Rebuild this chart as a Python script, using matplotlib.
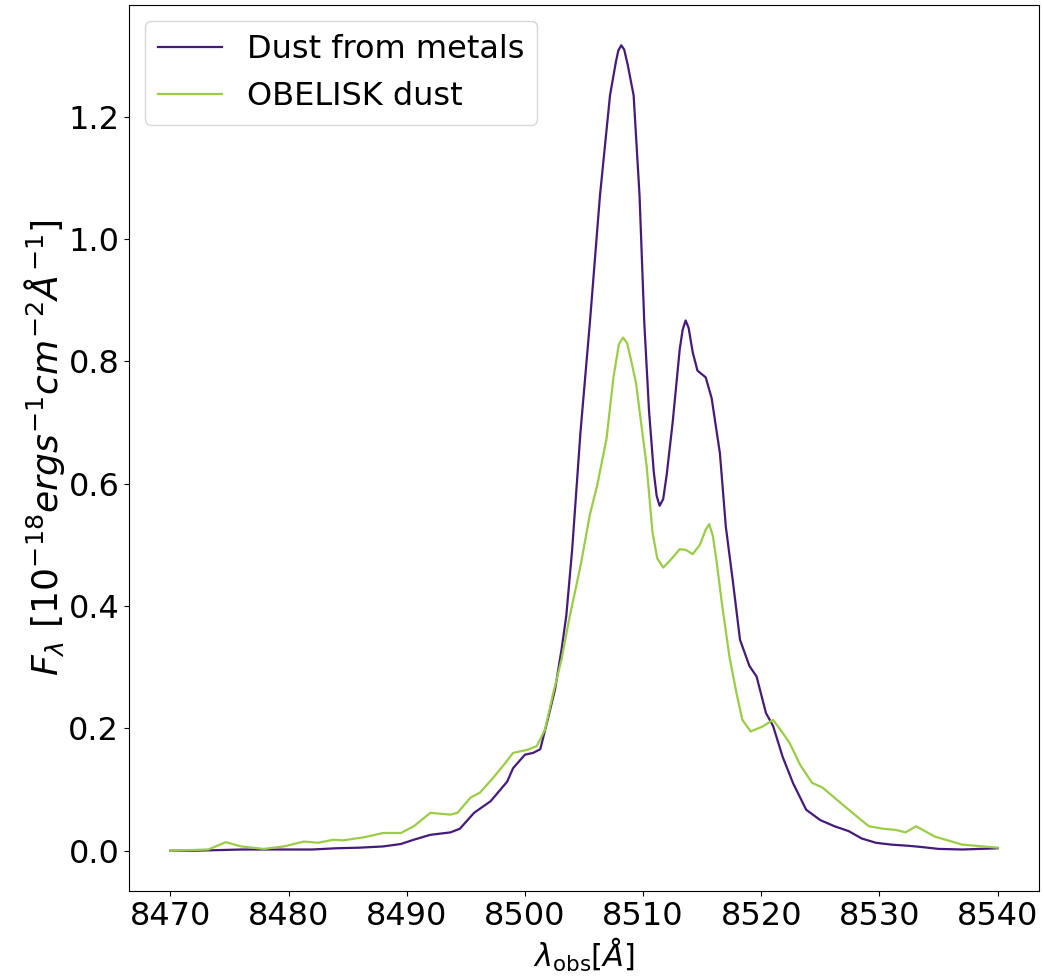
import matplotlib
matplotlib.use("Agg")
import matplotlib.pyplot as plt

# Dust from metals
wl_metals = [8470, 8472, 8474, 8476, 8478, 8480, 8482, 8484, 8486, 8488, 8489.5, 8490.6,
             8492, 8493.7, 8494.5, 8495.7, 8497.1, 8498.5, 8499.0, 8500.0, 8500.7, 8501.3,
             8502.0, 8502.55, 8503.1, 8503.5, 8504.0, 8504.7, 8505.5, 8506.35, 8507.2, 8507.7,
             8507.9, 8508.15, 8508.4, 8508.7, 8509.2, 8509.7, 8510.1, 8510.5, 8510.9, 8511.15,
             8511.4, 8511.7, 8512.0, 8512.5, 8513.1, 8513.35, 8513.6, 8513.85, 8514.2, 8514.6,
             8515.3, 8515.8, 8516.5, 8517.0, 8517.6, 8518.2,
             8519.0, 8519.6, 8520.4, 8521.0, 8521.8, 8522.7, 8523.8, 8525.0, 8526.2, 8527.4,
             8528.5, 8529.7, 8531.0, 8532.5, 8533.6, 8535.0, 8537.0, 8540.0]
flux_metals = [0.000, 0.000, 0.001, 0.002, 0.002, 0.002, 0.002, 0.004, 0.005, 0.007, 0.011, 0.018,
               0.026, 0.030, 0.036, 0.062, 0.081, 0.113, 0.135, 0.157, 0.160, 0.166,
               0.220, 0.264, 0.329, 0.384, 0.493, 0.684, 0.864, 1.071, 1.235, 1.290,
               1.308, 1.317, 1.310, 1.285, 1.235, 1.071, 0.864, 0.720, 0.620, 0.580,
               0.564, 0.575, 0.615, 0.700, 0.820, 0.852, 0.867, 0.855, 0.815, 0.785,
               0.774, 0.740, 0.650, 0.530, 0.440, 0.345,
               0.302, 0.285, 0.225, 0.204, 0.154, 0.110, 0.067, 0.050, 0.040, 0.032,
               0.020, 0.013, 0.010, 0.008, 0.006, 0.003, 0.002, 0.004]

# OBELISK dust
wl_obelisk = [8470, 8473.2, 8474.7, 8476.0, 8477.9, 8479.6, 8481.3, 8482.5, 8483.8, 8484.6,
              8486.4, 8488.0, 8489.5, 8490.6, 8492.0, 8493.7, 8494.3, 8495.4, 8496.2, 8497.3,
              8498.2, 8499.0, 8500.2, 8501.0, 8501.7, 8502.4, 8503.1, 8503.8, 8504.7, 8505.5,
              8506.1, 8506.9, 8507.5, 8507.95, 8508.3, 8508.65, 8508.95, 8509.4, 8510.3, 8510.8,
              8511.2, 8511.7, 8512.3, 8513.1, 8513.6, 8514.2, 8514.8, 8515.3, 8515.6, 8515.9,
              8516.2, 8516.7, 8517.3, 8517.9,
              8518.4, 8519.1, 8520.1, 8521.0, 8521.8, 8522.4, 8523.3, 8524.3, 8525.2, 8526.3,
              8527.4, 8529.1, 8530.3, 8531.4, 8532.2, 8533.1, 8534.7, 8537.0, 8540.0]
flux_obelisk = [0.000, 0.002, 0.014, 0.007, 0.003, 0.007, 0.015, 0.013, 0.018, 0.017,
                0.022, 0.029, 0.029, 0.040, 0.062, 0.059, 0.062, 0.087, 0.095, 0.119,
                0.140, 0.160, 0.165, 0.171, 0.198, 0.258, 0.313, 0.384, 0.465, 0.550,
                0.596, 0.673, 0.775, 0.828, 0.839, 0.830, 0.805, 0.765, 0.629, 0.520,
                0.478, 0.463, 0.475, 0.493, 0.492, 0.485, 0.500, 0.525, 0.534, 0.515,
                0.476, 0.400, 0.318, 0.258,
                0.214, 0.195, 0.203, 0.214, 0.193, 0.176, 0.140, 0.111, 0.103, 0.085,
                0.067, 0.040, 0.036, 0.034, 0.030, 0.040, 0.023, 0.010, 0.005]

labels = ["Dust from metals", "OBELISK dust"]
colors = ["#441a7a", "#9acd45"]

fig = plt.figure(figsize=(10.43, 9.8), dpi=100)
ax = fig.add_axes([129 / 1043, 89 / 980, 910 / 1043, 886 / 980])

ax.plot(wl_metals, flux_metals, color=colors[0], lw=1.6, label=labels[0])
ax.plot(wl_obelisk, flux_obelisk, color=colors[1], lw=1.6, label=labels[1])

ax.set_xticks([8470, 8480, 8490, 8500, 8510, 8520, 8530, 8540])
ax.set_yticks([0.0, 0.2, 0.4, 0.6, 0.8, 1.0, 1.2])
ax.tick_params(labelsize=23)
ax.set_xlabel(r"$\lambda_{\rm obs} [\AA]$", fontsize=22, labelpad=3)
ax.set_ylabel(r"$F_{\lambda}\ [10^{-18} erg s^{-1} cm^{-2} \AA^{-1}]$", fontsize=26, labelpad=1)
ax.legend(loc="upper left", fontsize=23)

fig.savefig("out.png", dpi=100)
